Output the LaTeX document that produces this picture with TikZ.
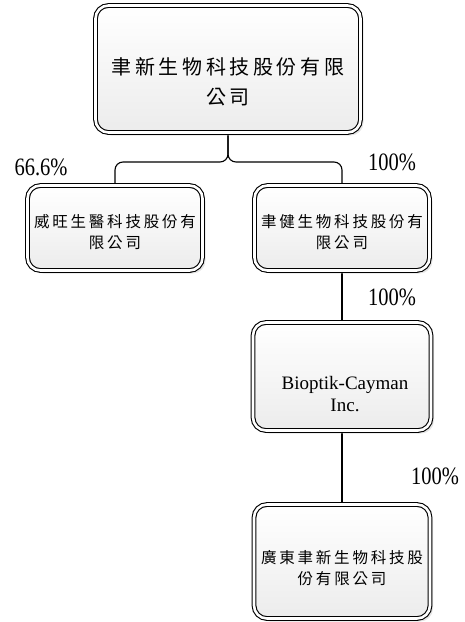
\documentclass[tikz,border=0pt]{standalone}
\usepackage{fontspec}
\setmainfont{Liberation Serif}
\newfontfamily\cjk[LetterSpace=18]{Noto Sans CJK TC}
\usetikzlibrary{positioning,shadows,backgrounds}

\tikzset{
  orgbox/.style={draw, double, double distance=2.6pt, line width=1.1pt,
    rounded corners=13pt, inner sep=0pt, top color=white, bottom color=gray!15,
    drop shadow={shadow xshift=3pt, shadow yshift=-3pt, fill=gray!40, opacity=0.5}},
  boxtext/.style={align=center, font=\cjk\fontsize{15.5}{21}\selectfont},
  pct/.style={font=\fontsize{25}{28}\selectfont},
  link/.style={line width=1.1pt, rounded corners=8pt}
}
\newcommand{\narrow}[1]{\scalebox{0.82}[1]{#1}}

\begin{document}
\begin{tikzpicture}[x=1pt,y=-1pt]
\useasboundingbox (0,0) rectangle (464,622);

% Company boxes, centres and sizes
\node[orgbox, minimum width=265pt, minimum height=127pt] (hold) at (228,69) {};
\node[orgbox, minimum width=175pt, minimum height=85pt] (weiwang) at (115,228) {};
\node[orgbox, minimum width=175pt, minimum height=85pt] (yujian) at (342,228) {};
\node[orgbox, minimum width=178pt, minimum height=108pt] (cayman) at (342,376.5) {};
\node[orgbox, minimum width=176pt, minimum height=114pt] (guangdong) at (342,561.5) {};

% Names (a little below the box centres)
\node[boxtext, font=\cjk\fontsize{20}{30}\selectfont] (holdtxt) at (228,82) {聿新生物科技股份有限\\公司};
\node[boxtext] (weiwangtxt) at (115,232) {威旺生醫科技股份有\\限公司};
\node[boxtext] (yujiantxt) at (342,232) {聿健生物科技股份有\\限公司};
\node[align=center, font=\fontsize{19}{22}\selectfont] (caymantxt) at (345,394) {Bioptik-Cayman\\Inc.};
\node[boxtext] (guangdongtxt) at (342,568) {廣東聿新生物科技股\\份有限公司};

% Shareholdings
\node[pct] (pctww) at (41,167) {\narrow{66.6\%}};
\node[pct] (pctyj) at (392,162) {\narrow{100\%}};
\node[pct] (pctcay) at (392,297) {\narrow{100\%}};
\node[pct] (pctgd) at (435,476) {\narrow{100\%}};

% Ownership lines, behind the boxes
\begin{scope}[on background layer]
\coordinate (split) at (228,162);
\draw[link] (hold.south) -- (split) -| (weiwang.north);
\draw[link] (hold.south) -- (split) -| (yujian.north);
\draw[link] (yujian.south) -- (cayman.north);
\draw[link] (cayman.south) -- (guangdong.north);
\end{scope}

\end{tikzpicture}
\end{document}
